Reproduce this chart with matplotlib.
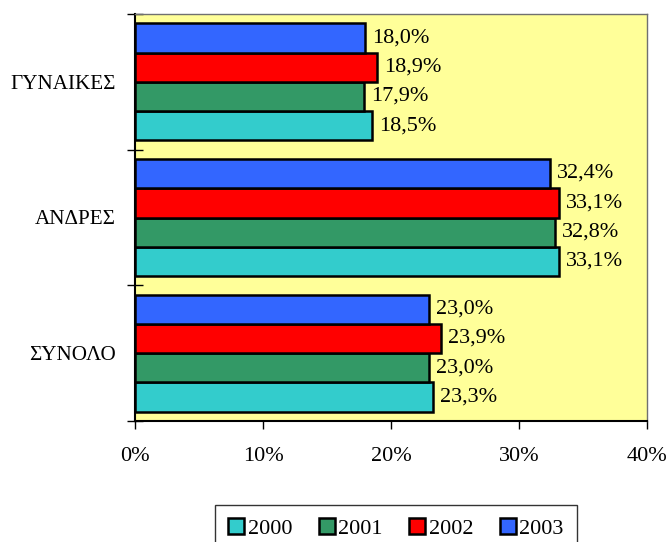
import numpy as np
import matplotlib.pyplot as plt
from matplotlib.patches import Rectangle

# categories bottom to top
categories = ["ΣΥΝΟΛΟ", "ΑΝΔΡΕΣ", "ΓΥΝΑΙΚΕΣ"]
years = ["2000", "2001", "2002", "2003"]
values = {
    "2000": [23.3, 33.1, 18.5],
    "2001": [23.0, 32.8, 17.9],
    "2002": [23.9, 33.1, 18.9],
    "2003": [23.0, 32.4, 18.0],
}
colors = {"2000": "#33CCCC", "2001": "#339966", "2002": "#FF0000", "2003": "#3366FF"}
xticks = [0, 10, 20, 30, 40]

plt.rcParams['font.family'] = ['Liberation Serif', 'DejaVu Serif']
fs = 16

fig = plt.figure(figsize=(6.67, 5.42), dpi=100)
ax = fig.add_axes([135 / 667, 1 - 421 / 542, 512 / 667, 407 / 542])
ax.set_facecolor("#FFFF99")

y = np.arange(len(categories))
bh = 0.216
offsets = [-1.5 * bh, -0.5 * bh, 0.5 * bh, 1.5 * bh]
for yr, off in zip(years, offsets):
    vals = values[yr]
    ax.barh(y + off, vals, height=bh, color=colors[yr], edgecolor="black",
            linewidth=1.8, zorder=3)
    for yi, v in zip(y, vals):
        ax.text(v + 0.55, yi + off, f"{v:.1f}%".replace(".", ","),
                va="center", ha="left", fontsize=fs, zorder=4)

ax.set_xlim(0, 40)
ax.set_ylim(-0.5, 2.5)
ax.set_xticks(xticks)
ax.set_xticklabels([f"{t}%" for t in xticks], fontsize=fs)
ax.set_yticks(y)
ax.set_yticklabels(categories, fontsize=15.2)
ax.set_yticks([-0.5, 0.5, 1.5, 2.5], minor=True)
ax.tick_params(axis="y", which="major", length=0, pad=14)
ax.tick_params(axis="y", which="minor", direction="inout", length=12, width=1)
ax.tick_params(axis="x", direction="out", length=6, width=1, pad=13)

ax.spines["top"].set_color("#707070")
ax.spines["right"].set_color("#707070")
ax.spines["top"].set_linewidth(1.0)
ax.spines["right"].set_linewidth(1.0)
ax.spines["left"].set_linewidth(1.5)
ax.spines["bottom"].set_linewidth(1.5)

handles = [Rectangle((0, 0), 1, 1, facecolor=colors[yr], edgecolor="black", linewidth=1.8)
           for yr in years]
leg = fig.legend(handles, years, loc="upper center", bbox_to_anchor=(396 / 667, 1 - 505 / 542),
                 ncol=4, fontsize=fs, frameon=True, fancybox=False, handlelength=0.72,
                 handleheight=0.72, handletextpad=0.15, columnspacing=1.2,
                 borderpad=0.6, borderaxespad=0)
leg.get_frame().set_edgecolor("black")
leg.get_frame().set_linewidth(1.0)

fig.savefig("out.png", dpi=100)
